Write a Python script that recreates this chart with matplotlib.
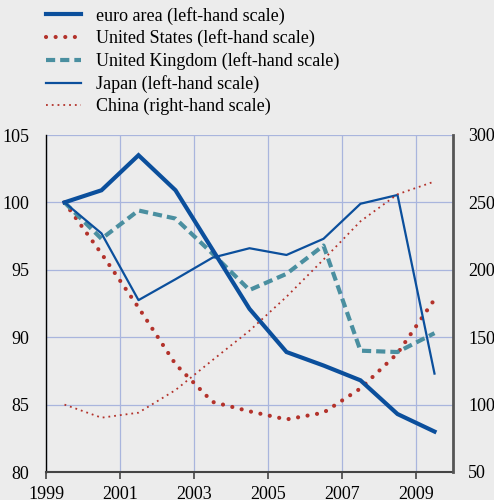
#!/usr/bin/env python3

import numpy as np
import matplotlib
matplotlib.use("Agg")
import matplotlib.pyplot as plt

# annual values, plotted at mid-year
years = [1999, 2000, 2001, 2002, 2003, 2004, 2005, 2006, 2007, 2008, 2009]
euro_area = [100.0, 100.9, 103.5, 100.9, 96.5, 92.1, 88.9, 87.9, 86.8, 84.3, 83.0]
united_states = [100.0, 96.2, 92.2, 88.0, 85.2, 84.5, 83.9, 84.4, 86.2, 88.8, 92.8]
united_kingdom = [100.0, 97.3, 99.4, 98.8, 96.2, 93.5, 94.7, 96.8, 89.0, 88.9, 90.3]
japan = [100.0, 97.7, 92.75, 94.3, 95.9, 96.6, 96.1, 97.3, 99.9, 100.55, 87.3]
china = [100.0, 90.3, 94.0, 110.8, 133.0, 154.8, 180.0, 207.6, 236.0, 256.0, 265.5]

xticks = [1999, 2001, 2003, 2005, 2007, 2009]
left_ticks = [80, 85, 90, 95, 100, 105]
right_ticks = [50, 100, 150, 200, 250, 300]

BG = "#ececec"
BLUE = "#0b4f9c"
TEAL = "#4a8fa0"
RED = "#b3322b"
GRID = "#a9b5dd"

plt.rcParams["font.family"] = ["Liberation Serif", "DejaVu Serif"]
plt.rcParams["font.size"] = 13


def main():
    fig = plt.figure(figsize=(4.94, 5.0), dpi=100, facecolor=BG)
    ax = fig.add_axes([46 / 494, 28 / 500, 407 / 494, 337 / 500])
    ax.set_facecolor(BG)
    ax2 = ax.twinx()

    x = np.array(years) + 0.5

    l1, = ax.plot(x, euro_area, color=BLUE, lw=3.0, solid_joinstyle="miter", zorder=4)
    l2, = ax.plot(x, united_states, color=RED, lw=3.0, linestyle=(0, (0.01, 2.3)),
                  dash_capstyle="round", zorder=3)
    l3, = ax.plot(x, united_kingdom, color=TEAL, lw=3.0, linestyle=(0, (2.2, 1.2)),
                  zorder=3)
    l4, = ax.plot(x, japan, color=BLUE, lw=1.6, zorder=4)
    l5, = ax2.plot(x, china, color=RED, lw=1.3, linestyle=(0, (1, 2.2)))

    ax.set_xlim(1999, 2010)
    ax.set_ylim(80, 105)
    ax2.set_ylim(50, 300)
    ax.set_xticks(xticks)
    ax.set_xticklabels([str(t) for t in xticks])
    ax.set_yticks(left_ticks)
    ax2.set_yticks(right_ticks)

    ax.grid(True, color=GRID, lw=0.9)
    ax.set_axisbelow(True)
    ax.tick_params(axis="y", length=0, pad=12)
    ax2.tick_params(axis="y", length=0, pad=11)
    ax.tick_params(axis="x", length=5, width=1.2, color="#444444", pad=5)

    for a in (ax, ax2):
        a.spines["top"].set_visible(False)
    ax2.spines["left"].set_visible(False)
    ax2.spines["bottom"].set_visible(False)
    ax.spines["right"].set_visible(False)
    ax.spines["left"].set_color("black")
    ax.spines["left"].set_linewidth(1.0)
    ax.spines["bottom"].set_color("#444444")
    ax.spines["bottom"].set_linewidth(1.5)
    ax2.spines["right"].set_color("#555555")
    ax2.spines["right"].set_linewidth(2.0)

    labels = ["euro area (left-hand scale)", "United States (left-hand scale)",
              "United Kingdom (left-hand scale)", "Japan (left-hand scale)",
              "China (right-hand scale)"]
    fig.legend([l1, l2, l3, l4, l5], labels, loc="upper left",
               bbox_to_anchor=(42 / 494, 1 - 3 / 500), frameon=False,
               prop={"size": 13},
               handlelength=1.95, handletextpad=0.82, labelspacing=0.27,
               borderaxespad=0, borderpad=0.2)

    fig.savefig("out.png", dpi=100, facecolor=BG)


if __name__ == "__main__":
    main()
